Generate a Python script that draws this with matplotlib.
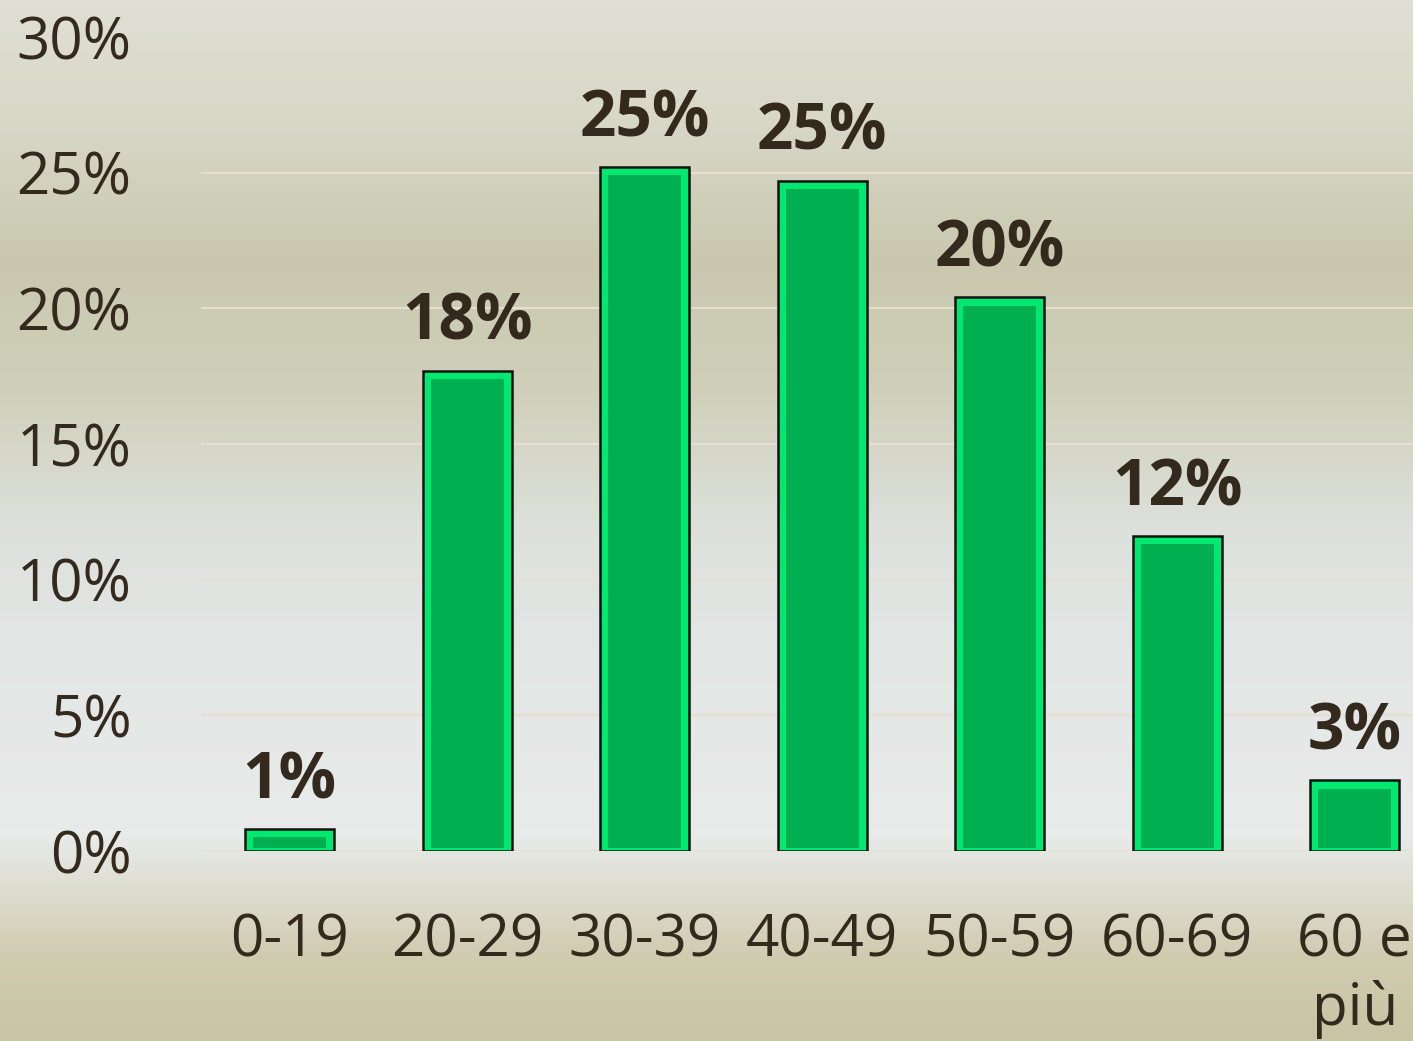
import matplotlib.pyplot as plt
import numpy as np
from matplotlib.colors import LinearSegmentedColormap

categories = ["0-19", "20-29", "30-39", "40-49", "50-59", "60-69", "60 e\npiù"]
values = [0.8, 17.7, 25.2, 24.7, 20.4, 11.6, 2.6]
labels = ["1%", "18%", "25%", "25%", "20%", "12%", "3%"]
yticks = [0, 5, 10, 15, 20, 25, 30]

text_col = "#33291d"

fig = plt.figure(figsize=(14.13, 10.41), dpi=100)

# background imitating the faded photo
bg = fig.add_axes([0, 0, 1, 1], zorder=0)
bg_cmap = LinearSegmentedColormap.from_list("bg", [
    (0.0, "#e0dfd4"), (0.12, "#d8d7c7"), (0.25, "#c9c8ae"), (0.38, "#d0d0bb"),
    (0.5, "#dde0da"), (0.62, "#e2e6e5"), (0.8, "#e8ebea"), (0.86, "#dddccf"),
    (0.92, "#d0ccb0"), (1.0, "#c9c4a4")])
grad = np.linspace(0, 1, 256).reshape(-1, 1)
bg.imshow(grad, aspect="auto", cmap=bg_cmap, extent=[0, 1, 0, 1], origin="upper")
bg.axis("off")

ax = fig.add_axes([201 / 1413, 1 - 851 / 1041, 1242.5 / 1413, 814 / 1041], zorder=1)
ax.patch.set_alpha(0)

x = np.arange(len(categories))
w = 0.5
ax.bar(x, values, width=w, color="#00e870", edgecolor="#111111", linewidth=1.8, zorder=3)
inset_y = 0.3
inner = [max(v - inset_y, 0.05) for v in values]
ax.bar(x, [h - 0.1 for h in inner], bottom=0.1, width=w - 0.09, color="#00b050",
       linewidth=0, zorder=4)

for xi, v, lab in zip(x, values, labels):
    ax.text(xi, v + 0.55, lab, ha="center", va="bottom", fontsize=46,
            fontweight="bold", color=text_col, family="Open Sans")

ax.set_xlim(-0.5, len(categories) - 0.5)
ax.set_ylim(0, 30)
ax.set_yticks(yticks)
ax.set_yticklabels([f"{t}%" for t in yticks])
ax.set_xticks(x)
ax.set_xticklabels(categories, linespacing=1.2)
for s in ax.spines.values():
    s.set_visible(False)
ax.tick_params(length=0, labelsize=42, labelcolor=text_col)
ax.tick_params(axis="y", pad=50)
ax.tick_params(axis="x", pad=44)
for t in ax.get_xticklabels() + ax.get_yticklabels():
    t.set_family("Open Sans")
ax.yaxis.grid(True, color="#e6dfd0", linewidth=1.5, zorder=1)
ax.set_axisbelow(True)

plt.savefig("out.png", dpi=100)
